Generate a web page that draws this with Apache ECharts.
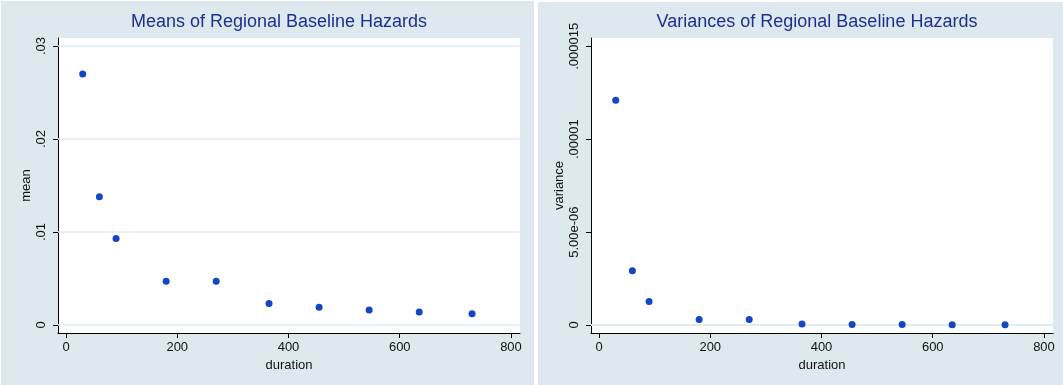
<!DOCTYPE html>
<html>
<head>
<meta charset="utf-8">
<script src="https://cdn.jsdelivr.net/npm/echarts@6/dist/echarts.min.js"></script>
<style>
  html, body { margin: 0; padding: 0; background: #ffffff; }
  #chart { width: 1063px; height: 385px; }
</style>
</head>
<body>
<div id="chart"></div>
<script>
// duration in days
const durations = [30, 60, 90, 180, 270, 365, 455, 545, 635, 730]
const means = [0.0270, 0.0138, 0.0093, 0.0047, 0.0047, 0.0023, 0.0019, 0.0016, 0.0014, 0.0012]
const variances = [1.21e-5, 2.92e-6, 1.27e-6, 3.0e-7, 3.0e-7, 5e-8, 3e-8, 2e-8, 1.5e-8, 1e-8]

const xTicks = [0, 200, 400, 600, 800]
const meanTicks = [0, 0.01, 0.02, 0.03]
const meanTickLabels = ['0', '.01', '.02', '.03']
const varTicks = [0, 5e-6, 1e-5, 1.5e-5]
const varTickLabels = ['0', '5.00e-06', '.00001', '.000015']

const FONT = 'Liberation Sans, Arial, sans-serif'
const PANEL = '#dde9ef'
const GRIDLINE = '#e2edf1'
const DOT = '#1444c8'
const TITLE = '#1c2f94'

const chart = echarts.init(document.getElementById('chart'), null, { renderer: 'canvas' })

function lookup(ticks, labels) {
  return v => {
    const i = ticks.findIndex(t => Math.abs(t - v) < 1e-12 + Math.abs(t) * 1e-6)
    return i >= 0 ? labels[i] : ''
  }
}

function xAxis(gridIndex) {
  return {
    type: 'value', gridIndex,
    min: -14.4, max: 816.2,
    name: 'duration', nameLocation: 'middle', nameGap: 23,
    nameTextStyle: { fontFamily: FONT, fontSize: 13, color: '#111' },
    axisLine: { show: true, onZero: false, lineStyle: { color: '#000', width: 1 } },
    axisTick: { show: true, length: 5, customValues: xTicks, lineStyle: { color: '#000' } },
    axisLabel: { customValues: xTicks, margin: 8, fontFamily: FONT, fontSize: 13, color: '#111' },
    splitLine: { show: false }
  }
}

function yAxis(gridIndex, name, min, max, ticks, labels) {
  return {
    type: 'value', gridIndex, min, max,
    name, nameLocation: 'middle', nameGap: 25, nameRotate: 90,
    nameTextStyle: { fontFamily: FONT, fontSize: 13, color: '#111' },
    axisLine: { show: true, onZero: false, lineStyle: { color: '#000', width: 1 } },
    axisTick: { show: true, length: 5, customValues: ticks, lineStyle: { color: '#000' } },
    axisLabel: {
      customValues: ticks, rotate: 90, margin: 10,
      fontFamily: FONT, fontSize: 13, color: '#111',
      formatter: lookup(ticks, labels)
    },
    splitLine: { show: false }
  }
}

// light horizontal gridlines at the y ticks
function gridLines(xi, ticks) {
  return {
    type: 'scatter', xAxisIndex: xi, yAxisIndex: xi, data: [], z: 1, silent: true,
    markLine: {
      silent: true, symbol: 'none', label: { show: false },
      lineStyle: { color: GRIDLINE, width: 1.5, type: 'solid' },
      emphasis: { disabled: true },
      animation: false,
      data: ticks.map(t => ({ yAxis: t }))
    }
  }
}

function dots(xi, values) {
  return {
    type: 'scatter', xAxisIndex: xi, yAxisIndex: xi, z: 5,
    symbol: 'circle', symbolSize: 7,
    itemStyle: { color: DOT, opacity: 1 },
    data: durations.map((d, i) => [d, values[i]])
  }
}

chart.setOption({
  animation: false,
  backgroundColor: '#ffffff',
  graphic: [
    { type: 'rect', shape: { x: 1, y: 1, width: 533, height: 384 }, style: { fill: PANEL }, z: -10 },
    { type: 'rect', shape: { x: 538, y: 2, width: 525, height: 383 }, style: { fill: PANEL }, z: -10 }
  ],
  title: [
    {
      text: 'Means of Regional Baseline Hazards', left: 279, top: 13, textAlign: 'center', padding: 0,
      textStyle: { fontFamily: FONT, fontSize: 18, fontWeight: 'normal', color: TITLE }
    },
    {
      text: 'Variances of Regional Baseline Hazards', left: 817, top: 13, textAlign: 'center', padding: 0,
      textStyle: { fontFamily: FONT, fontSize: 18, fontWeight: 'normal', color: TITLE }
    }
  ],
  grid: [
    { left: 58, right: 543, top: 38, bottom: 52, show: true, backgroundColor: '#ffffff', borderWidth: 0 },
    { left: 591, right: 10, top: 38, bottom: 52, show: true, backgroundColor: '#ffffff', borderWidth: 0 }
  ],
  xAxis: [xAxis(0), xAxis(1)],
  yAxis: [
    yAxis(0, 'mean', -0.00086, 0.03086, meanTicks, meanTickLabels),
    yAxis(1, 'variance', -4.31e-7, 1.5447e-5, varTicks, varTickLabels)
  ],
  series: [
    gridLines(0, meanTicks),
    gridLines(1, varTicks),
    dots(0, means),
    dots(1, variances)
  ]
})
</script>
</body>
</html>
